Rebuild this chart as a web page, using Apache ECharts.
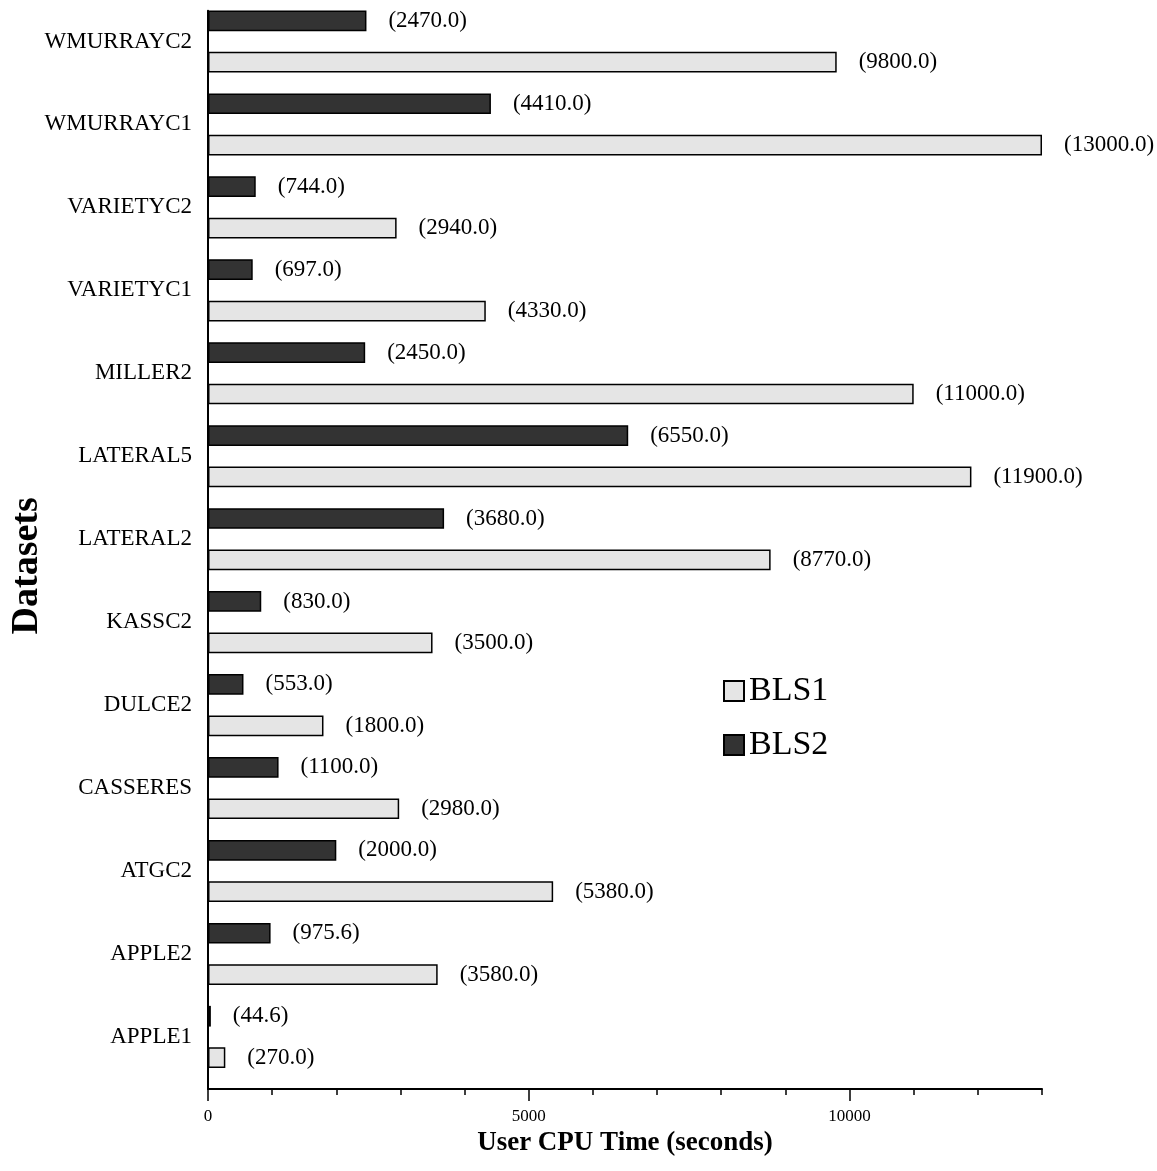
<!DOCTYPE html>
<html>
<head>
<meta charset="utf-8">
<title>User CPU Time per Dataset</title>
<script src="https://cdn.jsdelivr.net/npm/echarts@6/dist/echarts.min.js"></script>
<style>
  html, body { margin: 0; padding: 0; background: #fff; }
  #chart { width: 1157px; height: 1171px; }
</style>
</head>
<body>
<div id="chart"></div>
<script>
// Datasets, listed bottom to top
const datasets = ['APPLE1', 'APPLE2', 'ATGC2', 'CASSERES', 'DULCE2', 'KASSC2',
  'LATERAL2', 'LATERAL5', 'MILLER2', 'VARIETYC1', 'VARIETYC2', 'WMURRAYC1', 'WMURRAYC2'];

// User CPU time in seconds
const bls1 = [270.0, 3580.0, 5380.0, 2980.0, 1800.0, 3500.0,
  8770.0, 11900.0, 11000.0, 4330.0, 2940.0, 13000.0, 9800.0];
const bls2 = [44.6, 975.6, 2000.0, 1100.0, 553.0, 830.0,
  3680.0, 6550.0, 2450.0, 697.0, 744.0, 4410.0, 2470.0];

// x-axis range and ticks
const xMin = 0;
const xMax = 13000;
const minorStep = 1000;
const majorTicks = [0, 5000, 10000];

const SERIF = '"Liberation Serif", "Times New Roman", serif';

const chart = echarts.init(document.getElementById('chart'), null, { renderer: 'canvas' });

const valueLabel = {
  show: true,
  position: 'right',
  distance: 22,
  color: '#000',
  fontFamily: SERIF,
  fontSize: 23,
  formatter: p => '(' + p.value.toFixed(1) + ')'
};

const barBorder = { borderColor: '#000', borderWidth: 1.5 };

chart.setOption({
  animation: false,
  backgroundColor: '#fff',
  grid: [
    // bars and category labels
    { left: 208, width: 834, top: 0, height: 1078.4, containLabel: false, outerBoundsMode: 'none' },
    // axis frame
    { left: 208, width: 834, top: 10.7, height: 1078.3, containLabel: false, outerBoundsMode: 'none' }
  ],
  legend: {
    data: ['BLS1', 'BLS2'],
    orient: 'vertical',
    left: 718,
    top: 669,
    itemWidth: 20,
    itemHeight: 20,
    itemGap: 20,
    icon: 'rect',
    textStyle: { fontFamily: SERIF, fontSize: 34, color: '#000', lineHeight: 34 }
  },
  xAxis: [
    { gridIndex: 0, type: 'value', min: xMin, max: xMax, show: false },
    {
      gridIndex: 1, type: 'value', min: xMin, max: xMax, interval: minorStep,
      position: 'bottom',
      name: 'User CPU Time (seconds)',
      nameLocation: 'middle',
      nameGap: 40,
      nameTextStyle: { fontFamily: SERIF, fontSize: 27, fontWeight: 'bold', color: '#000' },
      axisLine: { show: true, lineStyle: { color: '#000', width: 2 } },
      axisTick: { show: true, inside: false, length: 6, lineStyle: { color: '#000', width: 1.5 } },
      axisLabel: {
        show: true, margin: 19, color: '#000', fontFamily: SERIF, fontSize: 17,
        formatter: v => (majorTicks.indexOf(v) >= 0 ? String(v) : '')
      },
      splitLine: { show: false }
    },
    {
      gridIndex: 1, type: 'value', min: xMin, max: xMax,
      position: 'bottom',
      axisLine: { show: false },
      axisTick: { show: true, length: 12, customValues: majorTicks, lineStyle: { color: '#000', width: 1.5 } },
      axisLabel: { show: false },
      splitLine: { show: false }
    }
  ],
  yAxis: [
    {
      gridIndex: 0, type: 'category', data: datasets,
      axisLine: { show: false },
      axisTick: { show: false },
      axisLabel: { margin: 16, color: '#000', fontFamily: SERIF, fontSize: 23 }
    },
    {
      gridIndex: 1, type: 'category', data: datasets,
      name: 'Datasets',
      nameLocation: 'middle',
      nameGap: 162,
      nameTextStyle: { fontFamily: SERIF, fontSize: 38, fontWeight: 'bold', color: '#000', padding: [0, 32, 0, 0] },
      axisLine: { show: true, lineStyle: { color: '#000', width: 2 } },
      axisTick: { show: false },
      axisLabel: { show: false }
    }
  ],
  series: [
    {
      name: 'BLS2', type: 'bar', xAxisIndex: 0, yAxisIndex: 0,
      data: bls2, barWidth: 20.7, barGap: '100%',
      itemStyle: Object.assign({ color: '#333333' }, barBorder),
      label: valueLabel
    },
    {
      name: 'BLS1', type: 'bar', xAxisIndex: 0, yAxisIndex: 0,
      data: bls1, barWidth: 20.7, barGap: '100%',
      itemStyle: Object.assign({ color: '#e5e5e5' }, barBorder),
      label: valueLabel
    }
  ]
});
</script>
</body>
</html>
